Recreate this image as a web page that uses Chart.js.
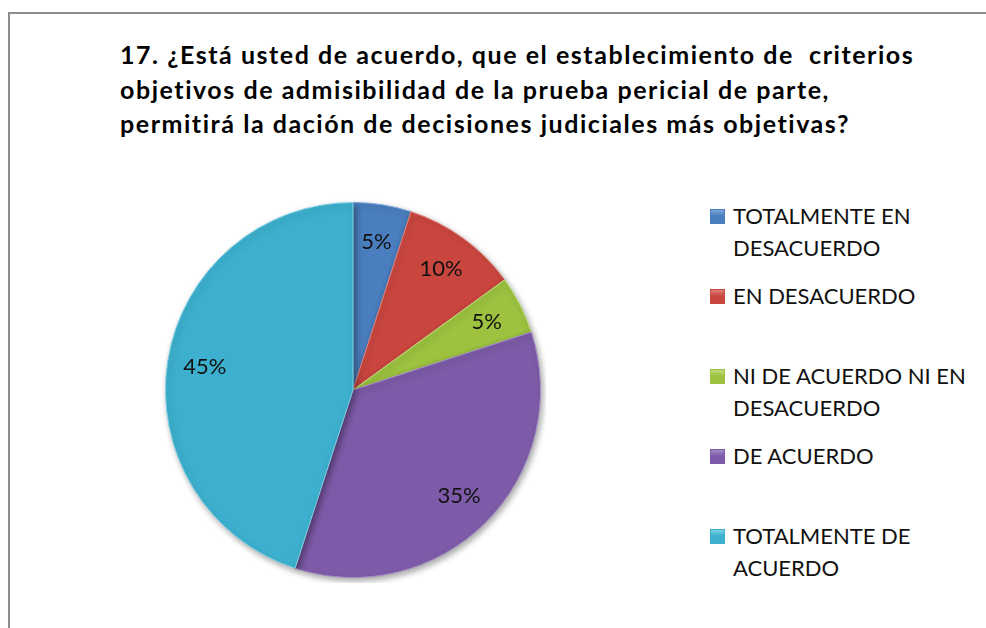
<!DOCTYPE html>
<html>
<head>
<meta charset="utf-8">
<script src="https://cdn.jsdelivr.net/npm/chart.js@4"></script>
<style>
  html, body { margin: 0; padding: 0; background: #fff; }
  body { width: 986px; height: 628px; position: relative; overflow: hidden; font-family: Lato, "Open Sans", sans-serif; }
  #frame { position: absolute; left: 8px; top: 12px; width: 990px; height: 640px; border-left: 2px solid #8c8c8c; border-top: 2px solid #8c8c8c; }
  #title { position: absolute; left: 120px; top: 37px; font-weight: bold; font-size: 25px; line-height: 34.5px; color: #000; }
  #title span { display: block; white-space: pre; width: max-content; }
  #pieBox { position: absolute; left: 160px; top: 197px; width: 386px; height: 386px; }
  #legend { position: absolute; left: 710px; top: 200px; }
  .item { position: absolute; left: 0; width: 275px; height: 80px; }
  .box { position: absolute; left: 0; top: 9px; width: 15px; height: 15px; box-sizing: border-box; }
  .txt { position: absolute; left: 23px; top: 0; font-size: 22px; line-height: 31.5px; color: #111; }
</style>
</head>
<body>
<div id="frame"></div>
<div id="title"></div>
<div id="pieBox"><canvas id="pie"></canvas></div>
<div id="legend"></div>
<script>
const titleLines = [
  '17. ¿Está usted de acuerdo, que el establecimiento de  criterios',
  'objetivos de admisibilidad de la prueba pericial de parte,',
  'permitirá la dación de decisiones judiciales más objetivas?'
];
const categories = [
  'TOTALMENTE EN DESACUERDO',
  'EN DESACUERDO',
  'NI DE ACUERDO NI EN DESACUERDO',
  'DE ACUERDO',
  'TOTALMENTE DE ACUERDO'
];
// legend labels wrap like in the original
const legendLines = [
  ['TOTALMENTE EN', 'DESACUERDO'],
  ['EN DESACUERDO'],
  ['NI DE ACUERDO NI EN', 'DESACUERDO'],
  ['DE ACUERDO'],
  ['TOTALMENTE DE', 'ACUERDO']
];
const percents = [5, 10, 5, 35, 45];
const colors = ['#4A7EBF', '#C9463F', '#9CC23F', '#7D5BA8', '#3CB0CE'];
const edgeColors = ['#7FA6D8', '#E07F79', '#C2DC7E', '#A38BC6', '#7FD0E4'];

const titleEl = document.getElementById('title');
titleLines.forEach(t => {
  const s = document.createElement('span');
  s.textContent = t;
  titleEl.appendChild(s);
});
// widen the letters a little so line 1 is as long as in the original (Calibri is wider)
const firstW = titleEl.firstChild.getBoundingClientRect().width;
const spacing = (794 - firstW) / titleLines[0].length;
titleEl.style.letterSpacing = spacing.toFixed(2) + 'px';

const legendEl = document.getElementById('legend');
categories.forEach((c, i) => {
  const item = document.createElement('div');
  item.className = 'item';
  item.style.top = (i * 80) + 'px';
  const box = document.createElement('div');
  box.className = 'box';
  box.style.background = `linear-gradient(180deg, ${edgeColors[i]} 0%, ${colors[i]} 45%, ${colors[i]} 100%)`;
  box.style.border = `1px solid ${colors[i]}`;
  box.title = c;
  const txt = document.createElement('div');
  txt.className = 'txt';
  txt.innerHTML = legendLines[i].join('<br>');
  item.appendChild(box);
  item.appendChild(txt);
  legendEl.appendChild(item);
});

// draws "5%" etc inside each slice
const sliceLabels = {
  id: 'sliceLabels',
  afterDatasetsDraw(chart) {
    const ctx = chart.ctx;
    const meta = chart.getDatasetMeta(0);
    ctx.save();
    ctx.font = '22px Lato, "Open Sans", sans-serif';
    ctx.fillStyle = '#111';
    ctx.textAlign = 'center';
    ctx.textBaseline = 'middle';
    meta.data.forEach((arc, i) => {
      const mid = (arc.startAngle + arc.endAngle) / 2;
      const r = arc.outerRadius * 0.8;
      ctx.fillText(percents[i] + '%', arc.x + Math.cos(mid) * r, arc.y + Math.sin(mid) * r);
    });
    ctx.restore();
  }
};

const shadow = {
  id: 'shadow',
  beforeDatasetsDraw(chart) {
    const ctx = chart.ctx;
    ctx.save();
    ctx.shadowColor = 'rgba(0,0,0,0.35)';
    ctx.shadowBlur = 6;
    ctx.shadowOffsetX = 2;
    ctx.shadowOffsetY = 3;
  },
  afterDatasetsDraw(chart) {
    chart.ctx.restore();
  }
};

new Chart(document.getElementById('pie'), {
  type: 'pie',
  data: {
    labels: categories,
    datasets: [{
      data: percents,
      backgroundColor: colors,
      borderColor: edgeColors,
      borderWidth: 1
    }]
  },
  options: {
    responsive: true,
    maintainAspectRatio: false,
    animation: false,
    layout: { padding: 5 },
    plugins: {
      legend: { display: false },
      tooltip: { enabled: false }
    }
  },
  plugins: [shadow, sliceLabels]
});
</script>
</body>
</html>
